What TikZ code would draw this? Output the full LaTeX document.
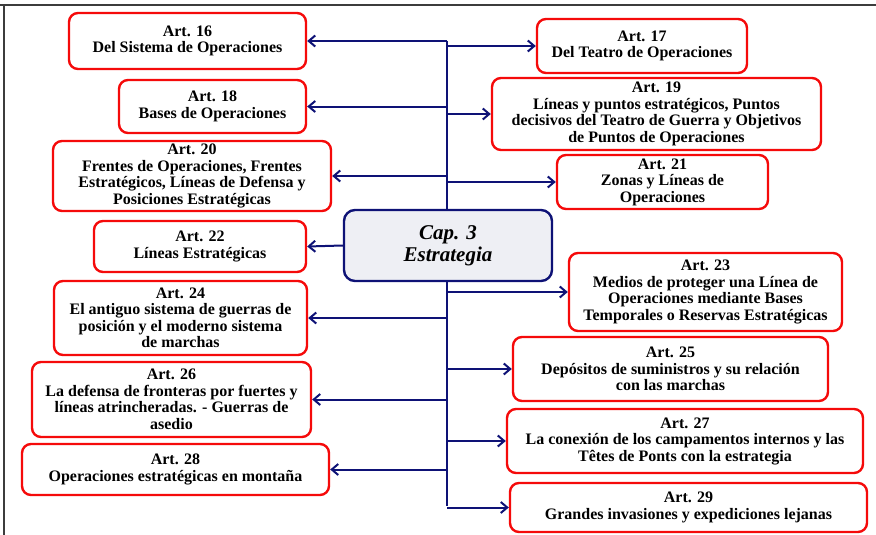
\documentclass[tikz,border=0pt]{standalone}
\usepackage{fontspec}
\setmainfont{Liberation Serif}
\usetikzlibrary{arrows.meta}
\definecolor{navyline}{RGB}{14,18,118}
\definecolor{artred}{RGB}{245,10,10}
\definecolor{capfill}{RGB}{238,239,244}
\definecolor{framegray}{RGB}{60,60,60}
\begin{document}
\begin{tikzpicture}[x=1pt,y=-1pt,
  artbox/.style={draw=artred, line width=2.4pt, rounded corners=9pt, fill=white,
    align=center, inner sep=1pt, font=\fontsize{16}{16.5}\selectfont\bfseries},
  capbox/.style={draw=navyline, line width=2.4pt, rounded corners=11pt, fill=capfill,
    align=center, font=\fontsize{21}{22}\selectfont\bfseries\itshape},
  link/.style={draw=navyline, line width=2pt},
  arr/.style={link, -{Straight Barb[length=6.5pt,width=11pt,line width=2pt]}}]
\useasboundingbox (0,0) rectangle (876,535);
% page frame
\draw[framegray, line width=1.4pt] (0,5) -- (876,5);
\draw[framegray, line width=1.4pt] (4,5) -- (4,535);
% central spine
\coordinate (spinetop) at (447,41);
\coordinate (spinebot) at (447,506);
\draw[link] (spinetop) -- (spinebot);
% chapter node
\node[capbox, minimum width=208pt, minimum height=71pt] (cap) at (448,245.5) {Cap. 3\\Estrategia};
% left column
\node[artbox, minimum width=237pt, minimum height=56pt] (a16) at (187.5,41) {Art. 16\\Del Sistema de Operaciones};
\node[artbox, minimum width=187pt, minimum height=53pt] (a18) at (212.5,106.5) {Art. 18\\Bases de Operaciones};
\node[artbox, minimum width=278pt, minimum height=70pt] (a20) at (192,176) {Art. 20\\Frentes de Operaciones, Frentes\\Estratégicos, Líneas de Defensa y\\Posiciones Estratégicas};
\node[artbox, minimum width=212pt, minimum height=51pt] (a22) at (200,246.5) {Art. 22\\Líneas Estratégicas};
\node[artbox, minimum width=253pt, minimum height=74pt] (a24) at (180.5,318) {Art. 24\\El antiguo sistema de guerras de\\posición y el moderno sistema\\de marchas};
\node[artbox, minimum width=279pt, minimum height=75pt] (a26) at (171.5,399.5) {Art. 26\\La defensa de fronteras por fuertes y\\líneas atrincheradas. - Guerras de\\asedio};
\node[artbox, minimum width=307pt, minimum height=51pt] (a28) at (175.5,469.5) {Art. 28\\Operaciones estratégicas en montaña};
% right column
\node[artbox, minimum width=210pt, minimum height=54pt] (a17) at (642,46) {Art. 17\\Del Teatro de Operaciones};
\node[artbox, minimum width=329pt, minimum height=72pt] (a19) at (656.5,114) {Art. 19\\Líneas y puntos estratégicos, Puntos\\decisivos del Teatro de Guerra y Objetivos\\de Puntos de Operaciones};
\node[artbox, minimum width=211pt, minimum height=54pt] (a21) at (662.5,182) {Art. 21\\Zonas y Líneas de\\Operaciones};
\node[artbox, minimum width=273pt, minimum height=78pt] (a23) at (705.5,292) {Art. 23\\Medios de proteger una Línea de\\Operaciones mediante Bases\\Temporales o Reservas Estratégicas};
\node[artbox, minimum width=315pt, minimum height=64pt] (a25) at (670.5,369) {Art. 25\\Depósitos de suministros y su relación\\con las marchas};
\node[artbox, minimum width=356pt, minimum height=64pt] (a27) at (685,441) {Art. 27\\La conexión de los campamentos internos y las\\Têtes de Ponts con la estrategia};
\node[artbox, minimum width=357pt, minimum height=49pt] (a29) at (688.5,507.5) {Art. 29\\Grandes invasiones y expediciones lejanas};
% branches to the left
\foreach \n in {a16,a18,a20,a24,a26,a28}
  \draw[arr] (\n.east -| spinetop) -- (\n.east);
\draw[arr] (cap.west) -- (a22.east);
% branches to the right
\foreach \n in {a17,a19,a21,a23,a25,a27,a29}
  \draw[arr] (\n.west -| spinetop) -- (\n.west);
\end{tikzpicture}
\end{document}
